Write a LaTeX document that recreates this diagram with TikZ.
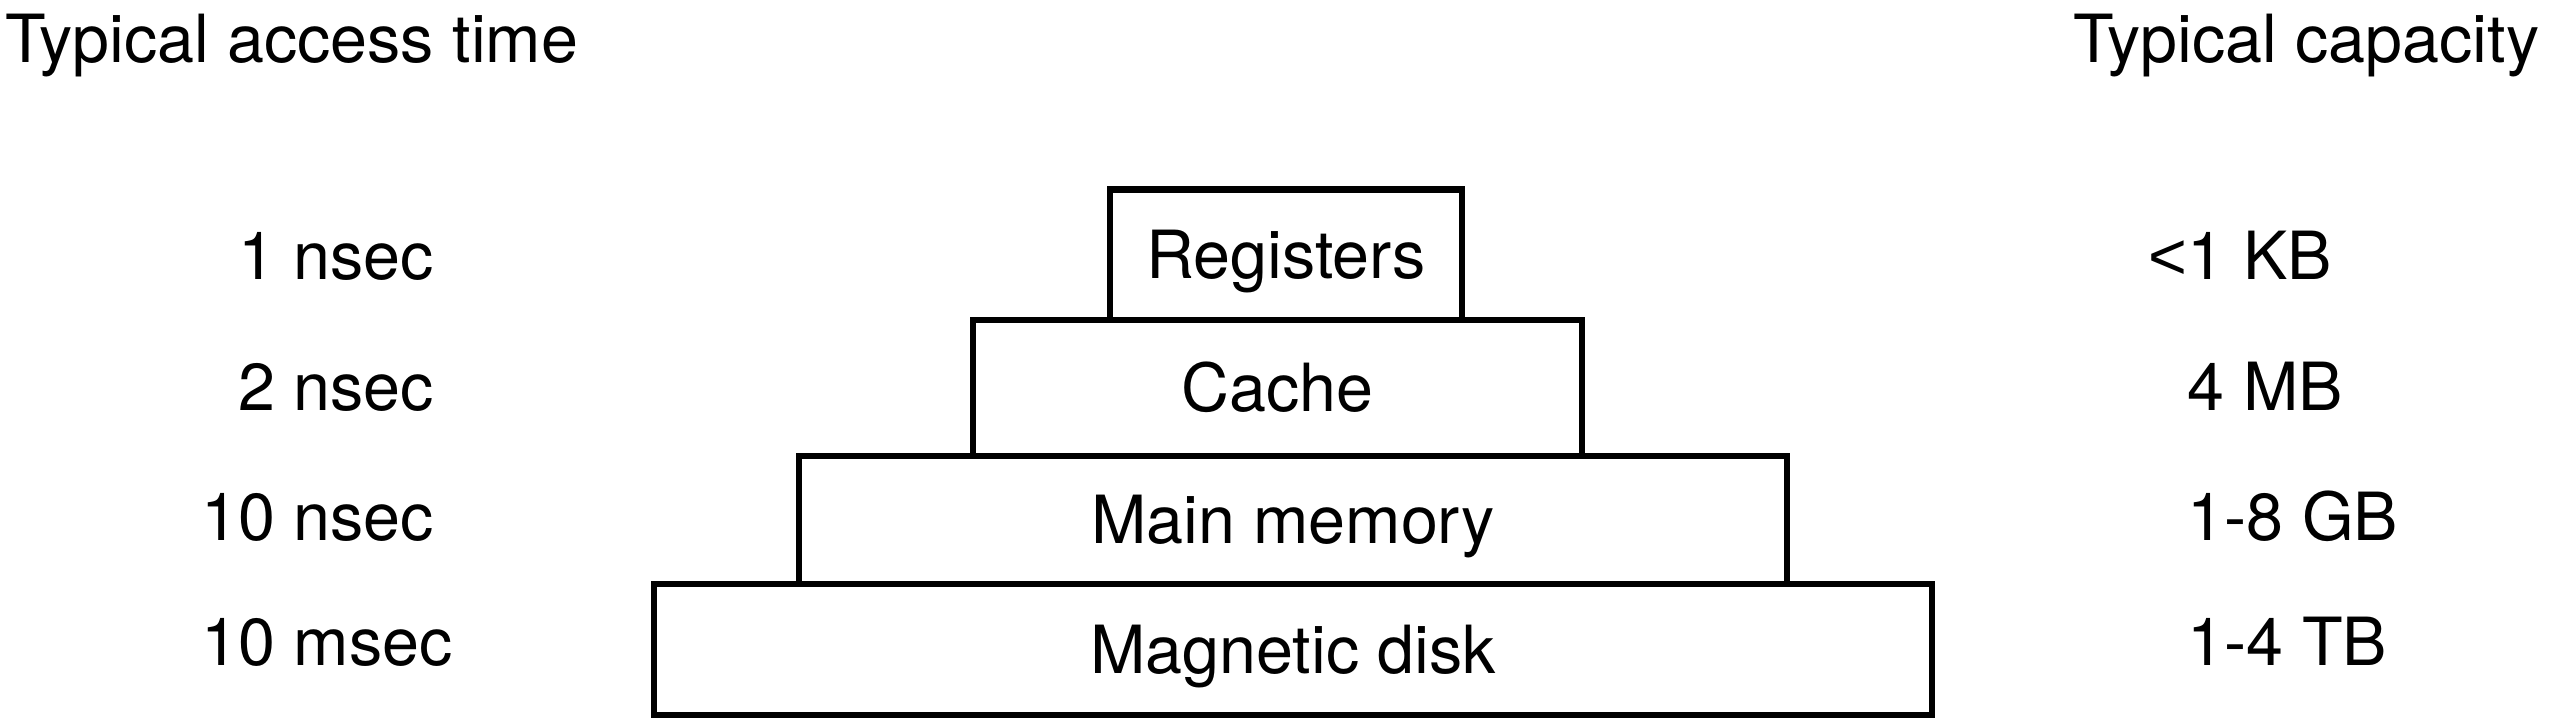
\documentclass[tikz,border=0pt]{standalone}
\usepackage{fontspec}
\setmainfont{TeX Gyre Heros}
\newfontfamily\lessfont{Liberation Sans}
\usepackage{tikz}
\usetikzlibrary{positioning}

\begin{document}
\begin{tikzpicture}[
    level/.style={draw, line width=1.8pt, outer sep=0pt, inner sep=0pt,
                  font=\fontsize{18.9}{22}\selectfont, text height=13.5pt, text depth=0pt},
    lbl/.style={inner sep=0pt, anchor=base west, font=\fontsize{18.9}{22}\selectfont},
    head/.style={inner sep=0pt, font=\fontsize{18.9}{22}\selectfont},
]
\useasboundingbox (0,0) rectangle (25.5,-7.26);

\node[level, minimum width=12.78cm, minimum height=1.31cm] (disk) at (12.93,-6.495) {Magnetic disk};
\node[level, minimum width=9.88cm, minimum height=1.28cm, above=0pt of disk] (mem) {Main memory};
\node[level, minimum width=6.09cm, minimum height=1.36cm, above=0pt of mem, xshift=-1.55mm] (cache) {Cache};
\node[level, minimum width=3.525cm, minimum height=1.305cm, above=0pt of cache, xshift=0.85mm] (reg) {Registers};

\node[head, anchor=base west] (timehead) at (0.045,-0.62) {Typical access time};
\node[head, anchor=base east] (caphead) at (25.40,-0.62) {Typical capacity};

\node[lbl] (t1) at (2.93,-2.79) {\llap{1 }nsec};
\node[lbl] (t2) at (2.93,-4.10) {\llap{2 }nsec};
\node[lbl] (t3) at (2.93,-5.40) {\llap{10 }nsec};
\node[lbl] (t4) at (2.93,-6.65) {\llap{10 }msec};

\node[lbl] (c1) at (21.87,-2.79) {\llap{\lessfont <}1 KB};
\node[lbl] (c2) at (21.87,-4.10) {4 MB};
\node[lbl] (c3) at (21.87,-5.40) {1-8 GB};
\node[lbl] (c4) at (21.87,-6.65) {1-4 TB};
\end{tikzpicture}
\end{document}
